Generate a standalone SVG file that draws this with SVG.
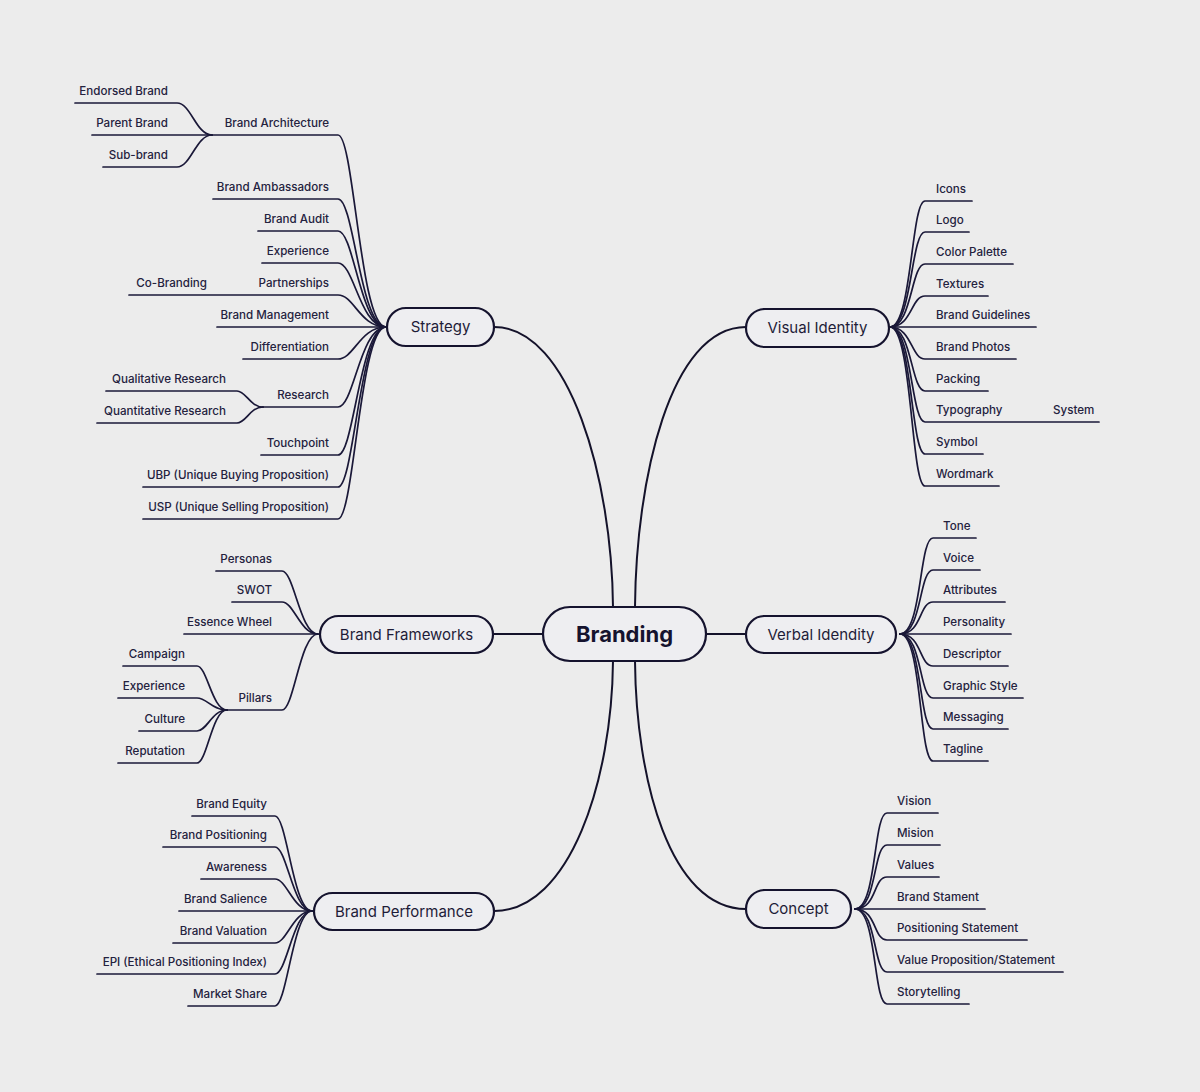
<svg xmlns="http://www.w3.org/2000/svg" width="1200" height="1092" viewBox="0 0 1200 1092">
<style>
.bg{fill:#ececec}
.c{fill:none;stroke:#1a1838;stroke-width:1.7;stroke-linecap:round}
.m{fill:none;stroke:#14122a;stroke-width:2}
.n{fill:#eeeef1;stroke:#15132e;stroke-width:2.2}
.t{font-family:Inter,"Noto Sans","Liberation Sans",sans-serif;font-size:11.6px;font-weight:500;fill:#24223e}
.e{text-anchor:end}
.nl{font-family:Inter,"Noto Sans","Liberation Sans",sans-serif;font-size:15px;fill:#1e1c38;text-anchor:middle}
.b{font-family:Inter,"Noto Sans","Liberation Sans",sans-serif;font-size:22px;font-weight:700;fill:#15132e;text-anchor:middle}
</style>
<rect class="bg" x="0" y="0" width="1200" height="1092"/>
<g id="connectors">
<!-- main -->
<path class="m" d="M494 327 C570 327 612 480 613 607"/>
<path class="m" d="M746 327 C670 327 636 480 635 607"/>
<path class="m" d="M494 911 C570 911 612 780 613 661"/>
<path class="m" d="M746 909 C670 909 636 780 635 661"/>
<path class="m" d="M494 634 H543"/>
<path class="m" d="M706 634 H746"/>
<!-- strategy -->
<path class="c" d="M212 135 H338 C354 135 360 327 386 327"/>
<path class="c" d="M213 199 H338 C354 199 360 327 386 327"/>
<path class="c" d="M258 231 H338 C354 231 360 327 386 327"/>
<path class="c" d="M262 263 H338 C354 263 360 327 386 327"/>
<path class="c" d="M129 295 H338 C354 295 360 327 386 327"/>
<path class="c" d="M217 327 H386"/>
<path class="c" d="M243 359 H338 C354 359 360 327 386 327"/>
<path class="c" d="M263 407 H338 C354 407 360 327 386 327"/>
<path class="c" d="M261 455 H338 C354 455 360 327 386 327"/>
<path class="c" d="M143 487 H338 C354 487 360 327 386 327"/>
<path class="c" d="M143 519 H338 C354 519 360 327 386 327"/>
<!-- architecture -->
<path class="c" d="M75 103 H177 C191 103 196 135 212 135"/>
<path class="c" d="M92 135 H212"/>
<path class="c" d="M103 167 H177 C191 167 196 135 212 135"/>
<!-- research -->
<path class="c" d="M106 391 H237 C246 391 250 407 263 407"/>
<path class="c" d="M97 423 H237 C246 423 250 407 263 407"/>
<!-- visual identity -->
<path class="c" d="M890 327 C912 327 911 201 925 201 H972"/>
<path class="c" d="M890 327 C912 327 911 232 925 232 H969"/>
<path class="c" d="M890 327 C912 327 911 264 925 264 H1013"/>
<path class="c" d="M890 327 C912 327 911 296 925 296 H988"/>
<path class="c" d="M890 327 H1036"/>
<path class="c" d="M890 327 C912 327 911 359 925 359 H1016"/>
<path class="c" d="M890 327 C912 327 911 391 925 391 H988"/>
<path class="c" d="M890 327 C912 327 911 422 925 422 H1099"/>
<path class="c" d="M890 327 C912 327 911 454 925 454 H983"/>
<path class="c" d="M890 327 C912 327 911 486 925 486 H999"/>
<!-- verbal -->
<path class="c" d="M900 634 C922 634 919 538 933 538 H976"/>
<path class="c" d="M900 634 C922 634 919 570 933 570 H980"/>
<path class="c" d="M900 634 C922 634 919 602 933 602 H1005"/>
<path class="c" d="M900 634 H1011"/>
<path class="c" d="M900 634 C922 634 919 666 933 666 H1008"/>
<path class="c" d="M900 634 C922 634 919 698 933 698 H1023"/>
<path class="c" d="M900 634 C922 634 919 729 933 729 H1008"/>
<path class="c" d="M900 634 C922 634 919 761 933 761 H988"/>
<!-- concept -->
<path class="c" d="M855 909 C877 909 873 813 887 813 H938"/>
<path class="c" d="M855 909 C877 909 873 845 887 845 H940"/>
<path class="c" d="M855 909 C877 909 873 877 887 877 H939"/>
<path class="c" d="M855 909 H985"/>
<path class="c" d="M855 909 C877 909 873 940 887 940 H1027"/>
<path class="c" d="M855 909 C877 909 873 972 887 972 H1063"/>
<path class="c" d="M855 909 C877 909 873 1004 887 1004 H969"/>
<!-- brand frameworks -->
<path class="c" d="M216 571 H282 C294 571 300 634 318 634"/>
<path class="c" d="M232 602 H282 C294 602 300 634 318 634"/>
<path class="c" d="M184 634 H318"/>
<path class="c" d="M227 710 H282 C294 710 300 634 318 634"/>
<!-- pillars -->
<path class="c" d="M123 666 H197 C207 666 212 710 227 710"/>
<path class="c" d="M118 698 H197 C207 698 212 710 227 710"/>
<path class="c" d="M139 731 H197 C207 731 212 710 227 710"/>
<path class="c" d="M118 763 H197 C207 763 212 710 227 710"/>
<!-- brand performance -->
<path class="c" d="M192 816 H275 C287 816 293 911 312 911"/>
<path class="c" d="M163 847 H275 C287 847 293 911 312 911"/>
<path class="c" d="M201 879 H275 C287 879 293 911 312 911"/>
<path class="c" d="M179 911 H312"/>
<path class="c" d="M173 943 H275 C287 943 293 911 312 911"/>
<path class="c" d="M97 974 H275 C287 974 293 911 312 911"/>
<path class="c" d="M188 1006 H275 C287 1006 293 911 312 911"/>
</g>

<g id="branding"><rect class="n" x="543" y="607" width="163" height="54" rx="27"/><text class="b" x="624.5" y="642">Branding</text></g>
<g id="strategy"><rect class="n" x="387" y="308" width="107" height="38" rx="19"/><text class="nl" x="440.5" y="332">Strategy</text></g>
<g id="visual-identity"><rect class="n" x="746" y="309" width="143" height="38" rx="19"/><text class="nl" x="817.5" y="333">Visual Identity</text></g>
<g id="verbal-identity"><rect class="n" x="746" y="616" width="150" height="37" rx="18.5"/><text class="nl" x="821" y="639.5">Verbal Idendity</text></g>
<g id="concept"><rect class="n" x="746" y="890" width="105" height="38" rx="19"/><text class="nl" x="798.5" y="914">Concept</text></g>
<g id="brand-frameworks"><rect class="n" x="320" y="616" width="173" height="37" rx="18.5"/><text class="nl" x="406.5" y="639.5">Brand Frameworks</text></g>
<g id="brand-performance"><rect class="n" x="314" y="893" width="180" height="37" rx="18.5"/><text class="nl" x="404" y="916.5">Brand Performance</text></g>

<g id="strategy-items">
<g id="brand-architecture"><text class="t e" x="329" y="127">Brand Architecture</text></g>
<g id="endorsed-brand"><text class="t e" x="168" y="95">Endorsed Brand</text></g>
<g id="parent-brand"><text class="t e" x="168" y="127">Parent Brand</text></g>
<g id="sub-brand"><text class="t e" x="168" y="159">Sub-brand</text></g>
<g id="brand-ambassadors"><text class="t e" x="329" y="191">Brand Ambassadors</text></g>
<g id="brand-audit"><text class="t e" x="329" y="223">Brand Audit</text></g>
<g id="experience-s"><text class="t e" x="329" y="255">Experience</text></g>
<g id="partnerships"><text class="t e" x="329" y="287">Partnerships</text></g>
<g id="co-branding"><text class="t e" x="207" y="287">Co-Branding</text></g>
<g id="brand-management"><text class="t e" x="329" y="319">Brand Management</text></g>
<g id="differentiation"><text class="t e" x="329" y="351">Differentiation</text></g>
<g id="qualitative"><text class="t e" x="226" y="383">Qualitative Research</text></g>
<g id="research"><text class="t e" x="329" y="399">Research</text></g>
<g id="quantitative"><text class="t e" x="226" y="415">Quantitative Research</text></g>
<g id="touchpoint"><text class="t e" x="329" y="447">Touchpoint</text></g>
<g id="ubp"><text class="t e" x="329" y="479">UBP (Unique Buying Proposition)</text></g>
<g id="usp"><text class="t e" x="329" y="511">USP (Unique Selling Proposition)</text></g>
</g>

<g id="visual-items">
<g id="icons"><text class="t" x="936" y="193">Icons</text></g>
<g id="logo"><text class="t" x="936" y="224">Logo</text></g>
<g id="color-palette"><text class="t" x="936" y="256">Color Palette</text></g>
<g id="textures"><text class="t" x="936" y="288">Textures</text></g>
<g id="brand-guidelines"><text class="t" x="936" y="319">Brand Guidelines</text></g>
<g id="brand-photos"><text class="t" x="936" y="351">Brand Photos</text></g>
<g id="packing"><text class="t" x="936" y="383">Packing</text></g>
<g id="typography"><text class="t" x="936" y="414">Typography</text></g>
<g id="system"><text class="t" x="1053" y="414">System</text></g>
<g id="symbol"><text class="t" x="936" y="446">Symbol</text></g>
<g id="wordmark"><text class="t" x="936" y="478">Wordmark</text></g>
</g>

<g id="verbal-items">
<g id="tone"><text class="t" x="943" y="530">Tone</text></g>
<g id="voice"><text class="t" x="943" y="562">Voice</text></g>
<g id="attributes"><text class="t" x="943" y="594">Attributes</text></g>
<g id="personality"><text class="t" x="943" y="626">Personality</text></g>
<g id="descriptor"><text class="t" x="943" y="658">Descriptor</text></g>
<g id="graphic-style"><text class="t" x="943" y="690">Graphic Style</text></g>
<g id="messaging"><text class="t" x="943" y="721">Messaging</text></g>
<g id="tagline"><text class="t" x="943" y="753">Tagline</text></g>
</g>

<g id="concept-items">
<g id="vision"><text class="t" x="897" y="805">Vision</text></g>
<g id="mision"><text class="t" x="897" y="837">Mision</text></g>
<g id="values"><text class="t" x="897" y="869">Values</text></g>
<g id="brand-stament"><text class="t" x="897" y="901">Brand Stament</text></g>
<g id="positioning-statement"><text class="t" x="897" y="932">Positioning Statement</text></g>
<g id="value-proposition"><text class="t" x="897" y="964">Value Proposition/Statement</text></g>
<g id="storytelling"><text class="t" x="897" y="996">Storytelling</text></g>
</g>

<g id="frameworks-items">
<g id="personas"><text class="t e" x="272" y="563">Personas</text></g>
<g id="swot"><text class="t e" x="272" y="594">SWOT</text></g>
<g id="essence-wheel"><text class="t e" x="272" y="626">Essence Wheel</text></g>
<g id="pillars"><text class="t e" x="272" y="702">Pillars</text></g>
<g id="campaign"><text class="t e" x="185" y="658">Campaign</text></g>
<g id="experience-p"><text class="t e" x="185" y="690">Experience</text></g>
<g id="culture"><text class="t e" x="185" y="723">Culture</text></g>
<g id="reputation"><text class="t e" x="185" y="755">Reputation</text></g>
</g>

<g id="performance-items">
<g id="brand-equity"><text class="t e" x="267" y="808">Brand Equity</text></g>
<g id="brand-positioning"><text class="t e" x="267" y="839">Brand Positioning</text></g>
<g id="awareness"><text class="t e" x="267" y="871">Awareness</text></g>
<g id="brand-salience"><text class="t e" x="267" y="903">Brand Salience</text></g>
<g id="brand-valuation"><text class="t e" x="267" y="935">Brand Valuation</text></g>
<g id="epi"><text class="t e" x="267" y="966">EPI (Ethical Positioning Index)</text></g>
<g id="market-share"><text class="t e" x="267" y="998">Market Share</text></g>
</g>
</svg>
